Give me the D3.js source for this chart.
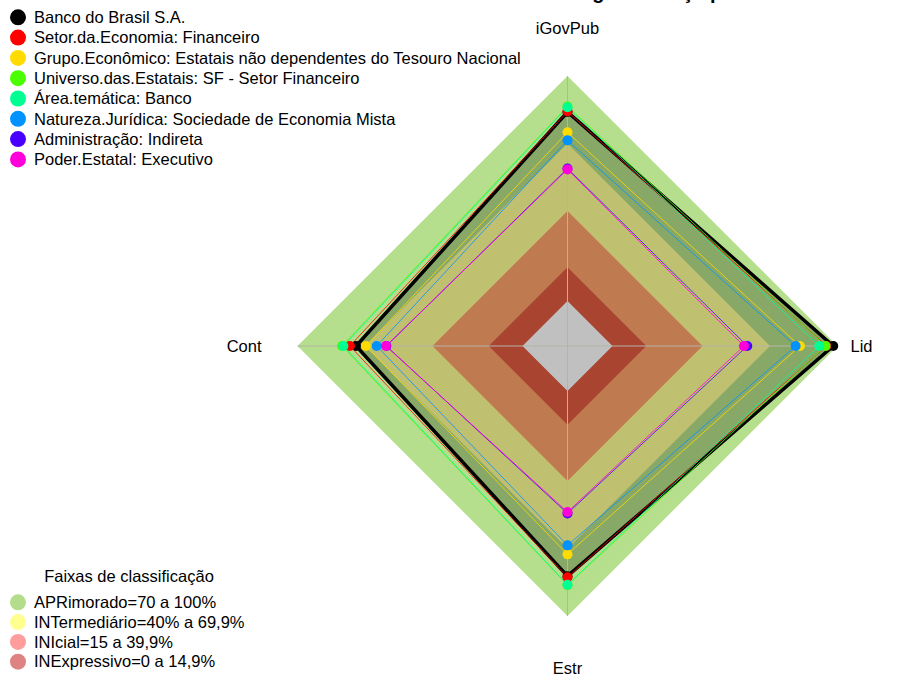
<!DOCTYPE html>
<html>
<head>
<meta charset="utf-8">
<script src="https://cdn.jsdelivr.net/npm/d3@7"></script>
<style>
  body { margin: 0; background: #fff; }
  text { font-family: "Liberation Sans", Arial, sans-serif; }
</style>
</head>
<body>
<svg id="radar"></svg>
<script>
// axes, counter-clockwise starting at the top
var axes = ["iGovPub", "Cont", "Estr", "Lid"];

// series (iGovPub, Cont, Estr, Lid)
var seriesNames = [
  "Banco do Brasil S.A.",
  "Setor.da.Economia: Financeiro",
  "Grupo.Econômico: Estatais não dependentes do Tesouro Nacional",
  "Universo.das.Estatais: SF - Setor Financeiro",
  "Área.temática: Banco",
  "Natureza.Jurídica: Sociedade de Economia Mista",
  "Administração: Indireta",
  "Poder.Estatal: Executivo"
];
var seriesColors = ["#000000", "#FF0000", "#FFDB00", "#49FF00", "#00FF92", "#0092FF", "#4900FF", "#FF00DB"];
var bancoBrasil  = [84.0, 74.0, 82.3, 98.1];
var setorFin     = [84.2, 76.7, 82.8, 95.0];
var grupoEcon    = [75.0, 69.6, 72.6, 83.3];
var universoSF   = [86.5, 80.2, 86.3, 94.7];
var areaBanco    = [86.1, 79.6, 86.1, 91.9];
var naturezaJur  = [71.4, 64.8, 68.6, 81.4];
var administr    = [58.9, 60.5, 54.4, 59.9];
var poderExec    = [58.5, 60.7, 53.8, 58.4];
var seriesValues = [bancoBrasil, setorFin, grupoEcon, universoSF, areaBanco, naturezaJur, administr, poderExec];

// classification bands
var bandNames  = ["APRimorado=70 a 100%", "INTermediário=40% a 69,9%", "INIcial=15 a 39,9%", "INExpressivo=0 a 14,9%"];
var bandTops   = [100, 70, 40, 15];
var bandFills  = ["#b5df8c", "#c0c071", "#c07a50", "#a84430"];
var bandLegend = ["#b3dd8a", "#ffff90", "#ff9c9c", "#de8282"];
var innerLimit = 0;

var width = 903, height = 680;
var cx = 567.5, cy = 346, R = 270;

var svg = d3.select("#radar")
  .attr("width", width)
  .attr("height", height);

var r = d3.scaleLinear().domain([-20, 100]).range([0, R]);

var angle = function(i) { return Math.PI / 2 + i * 2 * Math.PI / axes.length; };

var radarLine = d3.line()
  .x(function(d, i) { return cx + r(d) * Math.cos(angle(i)); })
  .y(function(d, i) { return cy - r(d) * Math.sin(angle(i)); })
  .curve(d3.curveLinearClosed);

var ring = function(v) { return axes.map(function() { return v; }); };

// outer band
svg.append("path")
  .attr("d", radarLine(ring(bandTops[0])))
  .attr("fill", bandFills[0]);

// Banco do Brasil area
svg.append("path")
  .attr("d", radarLine(bancoBrasil))
  .attr("fill", "#88a868");

// inner bands
for (var b = 1; b < bandTops.length; b++) {
  svg.append("path")
    .attr("d", radarLine(ring(bandTops[b])))
    .attr("fill", bandFills[b]);
}
svg.append("path")
  .attr("d", radarLine(ring(innerLimit)))
  .attr("fill", "#c0c0c0");

// axis lines
svg.append("g").selectAll("line")
  .data(axes)
  .enter().append("line")
  .attr("x1", cx).attr("y1", cy)
  .attr("x2", function(d, i) { return cx + R * Math.cos(angle(i)); })
  .attr("y2", function(d, i) { return cy - R * Math.sin(angle(i)); })
  .attr("stroke", "#b4b4a8")
  .attr("stroke-width", 1);

// series lines
svg.append("g").selectAll("path")
  .data(seriesValues)
  .enter().append("path")
  .attr("d", function(d) { return radarLine(d); })
  .attr("fill", "none")
  .attr("stroke", function(d, i) { return seriesColors[i]; })
  .attr("stroke-width", function(d, i) { return i == 0 ? 3.5 : 1; })
  .attr("stroke-opacity", function(d, i) { return i == 0 ? 1 : 0.8; });

// series points
seriesValues.forEach(function(vals, s) {
  svg.append("g").selectAll("circle")
    .data(vals)
    .enter().append("circle")
    .attr("cx", function(d, i) { return cx + r(d) * Math.cos(angle(i)); })
    .attr("cy", function(d, i) { return cy - r(d) * Math.sin(angle(i)); })
    .attr("r", 5)
    .attr("fill", seriesColors[s]);
});

// axis labels
svg.append("g").selectAll("text")
  .data(axes)
  .enter().append("text")
  .attr("x", function(d, i) {
    var c = Math.cos(angle(i));
    return cx + (Math.abs(c) < 0.01 ? 0 : c > 0 ? R + 13 : R + 36) * c;
  })
  .attr("y", function(d, i) {
    var s = Math.sin(angle(i));
    return cy - (Math.abs(s) < 0.01 ? 0 : s > 0 ? R + 48 : R + 322 - R) * s;
  })
  .attr("dy", "0.35em")
  .attr("text-anchor", function(d, i) {
    var c = Math.cos(angle(i));
    return Math.abs(c) < 0.01 ? "middle" : c > 0 ? "start" : "end";
  })
  .style("font-size", "16.5px")
  .text(function(d) { return d; });

// title (cut at top edge)
svg.append("text")
  .attr("x", 640)
  .attr("y", -1)
  .attr("text-anchor", "middle")
  .style("font-size", "20px")
  .style("font-weight", "bold")
  .text("Índice de governança pública");

// series legend
var legend = svg.append("g").selectAll("g")
  .data(seriesNames)
  .enter().append("g")
  .attr("transform", function(d, i) { return "translate(18," + (17.3 + i * 20.3) + ")"; });
legend.append("circle")
  .attr("r", 8)
  .attr("fill", function(d, i) { return seriesColors[i]; });
legend.append("text")
  .attr("x", 16)
  .attr("dy", "0.35em")
  .style("font-size", "16.5px")
  .text(function(d) { return d; });

// band legend
svg.append("text")
  .attr("x", 129)
  .attr("y", 576)
  .attr("dy", "0.35em")
  .attr("text-anchor", "middle")
  .style("font-size", "16.5px")
  .text("Faixas de classificação");

var bandLeg = svg.append("g").selectAll("g")
  .data(bandNames)
  .enter().append("g")
  .attr("transform", function(d, i) { return "translate(18," + (602.3 + i * 19.8) + ")"; });
bandLeg.append("circle")
  .attr("r", 8)
  .attr("fill", function(d, i) { return bandLegend[i]; });
bandLeg.append("text")
  .attr("x", 16)
  .attr("dy", "0.35em")
  .style("font-size", "16.5px")
  .text(function(d) { return d; });
</script>
</body>
</html>
